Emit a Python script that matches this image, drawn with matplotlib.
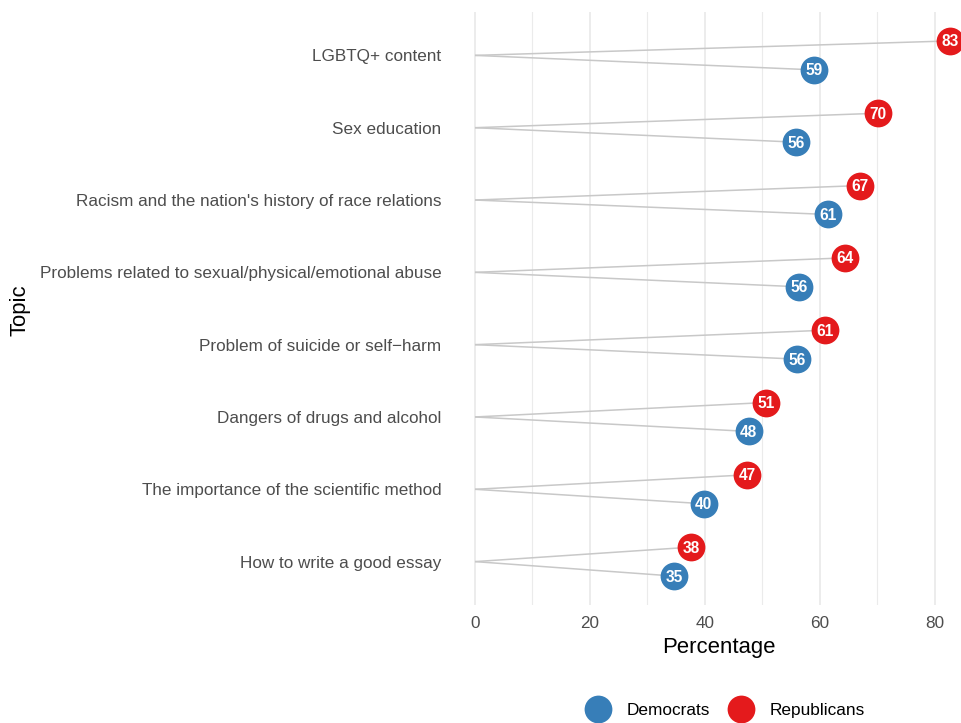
import matplotlib
matplotlib.use("Agg")
import matplotlib.pyplot as plt
from matplotlib.lines import Line2D

plt.rcParams['font.family'] = ['Liberation Sans', 'DejaVu Sans']

topics = [
    "LGBTQ+ content",
    "Sex education",
    "Racism and the nation's history of race relations",
    "Problems related to sexual/physical/emotional abuse",
    "Problem of suicide or self\u2212harm",
    "Dangers of drugs and alcohol",
    "The importance of the scientific method",
    "How to write a good essay",
]
republicans = [82.6, 70.1, 67.0, 64.3, 60.9, 50.6, 47.3, 37.6]
democrats = [58.9, 55.8, 61.4, 56.3, 56.0, 47.6, 39.8, 34.6]
x_ticks = [0, 20, 40, 60, 80]
x_minor = [10, 30, 50, 70]

RED = "#E41A1C"
BLUE = "#377EB8"
LINE = "#C8C8C8"
GRID = "#EBEBEB"
TXT = "#4D4D4D"

W, H = 962, 723
fig = plt.figure(figsize=(W / 100, H / 100), dpi=100)

px_per_unit = 5.75
x0_px = 475
left_px, right_px = 451, 962
top_px, bottom_px = 12, 605
ax = fig.add_axes([left_px / W, 1 - bottom_px / H, (right_px - left_px) / W, (bottom_px - top_px) / H])
ax.set_xlim((left_px - x0_px) / px_per_unit, (right_px - x0_px) / px_per_unit)
ax.set_ylim(0.4, 8.6)

n = len(topics)
ypos = [n - i for i in range(n)]
off = 0.2

for y, r, d in zip(ypos, republicans, democrats):
    ax.plot([0, r], [y, y + off], color=LINE, lw=1.1, zorder=2, solid_capstyle='butt')
    ax.plot([0, d], [y, y - off], color=LINE, lw=1.1, zorder=2, solid_capstyle='butt')

ax.scatter(republicans, [y + off for y in ypos], s=400, color=RED, zorder=3, clip_on=False, linewidths=0)
ax.scatter(democrats, [y - off for y in ypos], s=400, color=BLUE, zorder=3, clip_on=False, linewidths=0)
fs_lab = 11.2
cap_off = -0.716 * fs_lab / 2
for y, r, d in zip(ypos, republicans, democrats):
    for xv, yv in [(r, y + off), (d, y - off)]:
        ax.annotate(f"{round(xv)}", (xv, yv), xytext=(0, cap_off), textcoords='offset points',
                    color="white", fontsize=fs_lab, fontweight='bold',
                    ha='center', va='baseline', zorder=4, annotation_clip=False)

ax.set_xticks(x_ticks)
ax.set_xticks(x_minor, minor=True)
ax.set_yticks(ypos)
ax.set_yticklabels(topics)
ax.grid(True, axis='x', which='major', color=GRID, lw=1.3, zorder=0)
ax.grid(True, axis='x', which='minor', color=GRID, lw=0.8, zorder=0)
ax.set_axisbelow(True)
for s in ax.spines.values():
    s.set_visible(False)
ax.tick_params(axis='both', which='both', length=0, labelsize=12.3, labelcolor=TXT)
ax.tick_params(axis='x', pad=8)
ax.tick_params(axis='y', pad=7)

fig.text(719 / W, 1 - 647 / H, "Percentage", ha='center', va='center', fontsize=15.9, color='black')
fig.text(20 / W, 1 - 310 / H, "Topic", ha='center', va='center', fontsize=15.9, rotation=90, color='black')

# legend
ly = 1 - 709 / H
for cx, col, lab in [(598, BLUE, "Democrats"), (741, RED, "Republicans")]:
    fig.add_artist(Line2D([cx / W], [ly], marker='o', markersize=20, color=col,
                          markeredgewidth=0, linestyle='none'))
    fig.text((cx + 29) / W, ly - 1.5 / H, lab, ha='left', va='center', fontsize=12.4, color='black')

fig.savefig("out.png", dpi=100)
